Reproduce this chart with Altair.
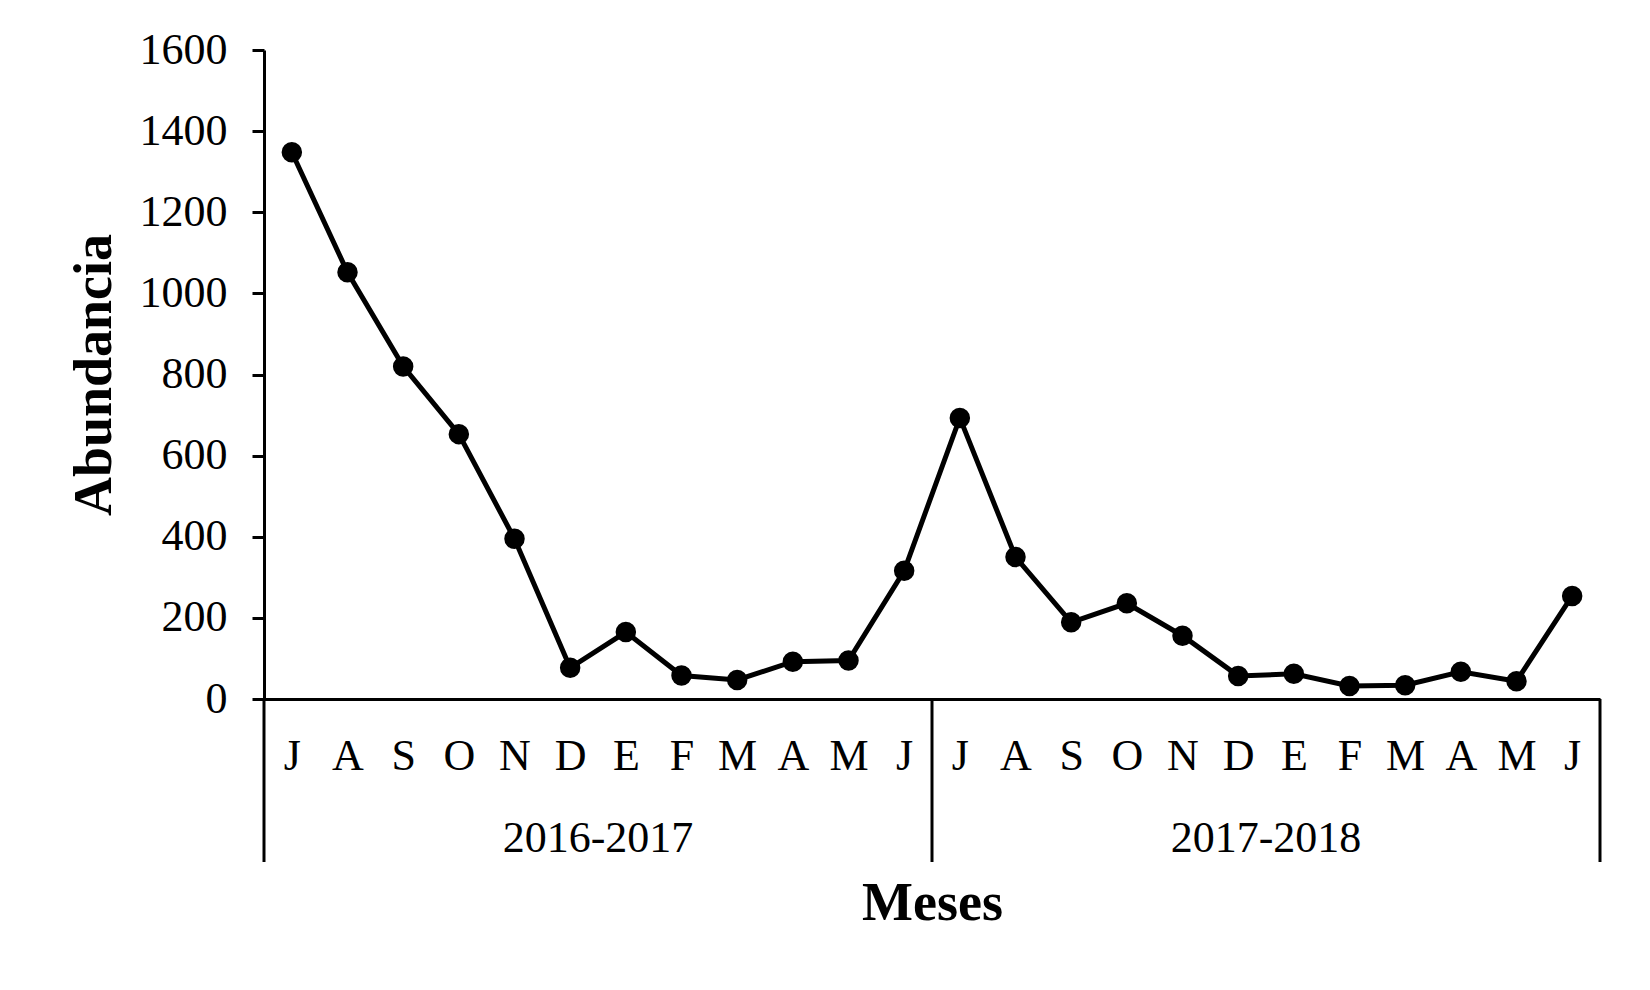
import altair as alt
import pandas as pd

meses = ["J", "A", "S", "O", "N", "D", "E", "F", "M", "A", "M", "J"]
temporadas = ["2016-2017", "2017-2018"]
abund_2016 = [1348, 1052, 820, 653, 395, 77, 165, 58, 47, 92, 95, 316]
abund_2017 = [693, 350, 189, 236, 156, 57, 62, 32, 34, 67, 44, 254]
y_ticks = [0, 200, 400, 600, 800, 1000, 1200, 1400, 1600]

FONT = "Liberation Serif"
W, H = 1336, 649

rows = []
i = 0
for t, vals in zip(temporadas, [abund_2016, abund_2017]):
    for m, v in zip(meses, vals):
        rows.append({"idx": i, "mes": m, "temporada": t, "abundancia": v})
        i += 1
df = pd.DataFrame(rows)
n = len(df)

month_arr = "[" + ",".join("'%s'" % m for m in df["mes"]) + "]"
label_expr = month_arr + "[datum.value]"

xscale = alt.Scale(domain=[-0.5, n - 0.5], nice=False, zero=False)
yscale = alt.Scale(domain=[0, 1600], nice=False)

x_axis = alt.Axis(
    values=list(range(n)), labelExpr=label_expr, ticks=False, tickSize=0,
    labelPadding=70, labelBaseline="alphabetic", labelFontSize=44,
    labelFont=FONT, labelColor="black", labelAngle=0,
    domain=True, domainColor="black", domainWidth=3, grid=False,
    title="Meses", titleFont=FONT, titleFontSize=54, titleFontWeight="bold",
    titleColor="black", titleBaseline="alphabetic", titleY=220, titleX=W / 2,
    titleAlign="center",
)
y_axis = alt.Axis(
    values=y_ticks, format="d", tickSize=12, tickWidth=3, tickColor="black",
    labelFontSize=44, labelFont=FONT, labelColor="black", labelPadding=25,
    domain=True, domainColor="black", domainWidth=3, grid=False,
    title="Abundancia", titleFont=FONT, titleFontSize=54, titleFontWeight="bold",
    titleColor="black", titleBaseline="alphabetic", titleAlign="center",
    titleAngle=270, titleX=-154, titleY=H / 2,
)

base = alt.Chart(df)
line = base.mark_line(color="black", strokeWidth=5).encode(
    x=alt.X("idx:Q", scale=xscale, axis=x_axis),
    y=alt.Y("abundancia:Q", scale=yscale, axis=y_axis),
)
points = base.mark_point(filled=True, size=420, color="black", opacity=1).encode(
    x=alt.X("idx:Q", scale=xscale, axis=x_axis),
    y=alt.Y("abundancia:Q", scale=yscale, axis=y_axis),
)

bounds = pd.DataFrame({"pos": [-0.5, 11.5, n - 0.5]})
rules = alt.Chart(bounds).mark_rule(color="black", strokeWidth=3).encode(
    x=alt.X("pos:Q", scale=xscale, axis=x_axis),
    y=alt.value(H),
    y2=alt.value(H + 163),
)

years = pd.DataFrame({"temporada": temporadas, "centro": [5.5, 17.5]})
year_text = alt.Chart(years).mark_text(
    font=FONT, fontSize=44, color="black", baseline="alphabetic", align="center"
).encode(
    x=alt.X("centro:Q", scale=xscale, axis=x_axis),
    y=alt.value(H + 153),
    text="temporada:N",
)

chart = alt.layer(line, points, rules, year_text).properties(
    width=W, height=H,
    background="white",
    autosize=alt.AutoSizeParams(type="none"),
    padding={"left": 256, "top": 42, "right": 42, "bottom": 260},
).configure_view(strokeWidth=0, stroke="transparent")

chart.save("out.html", embed_options={"renderer": "svg", "actions": False})
